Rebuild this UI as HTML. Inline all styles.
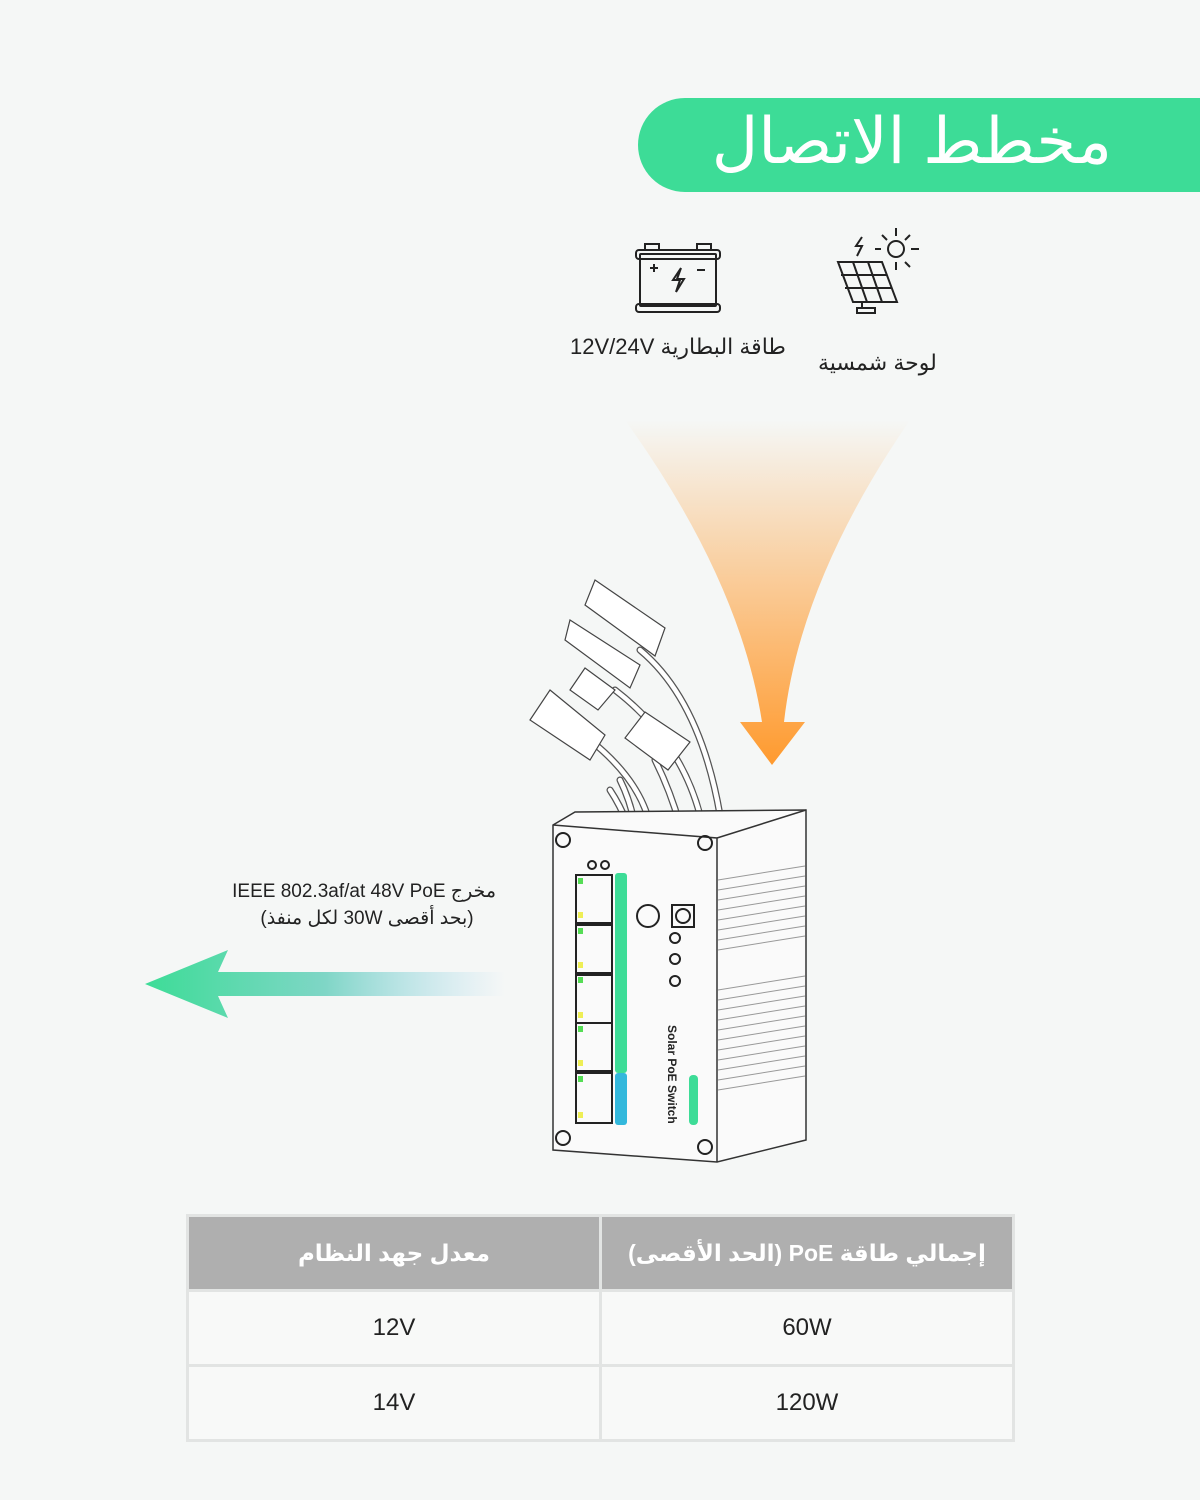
<!DOCTYPE html>
<html><head><meta charset="utf-8"><style>
body{margin:0;width:1200px;height:1500px;background:#f5f7f6;position:relative;overflow:hidden;font-family:"Liberation Sans","DejaVu Sans",sans-serif;color:#222}
.banner{position:absolute;left:638px;top:98px;width:600px;height:94px;background:#3ddc97;border-radius:47px 0 0 47px}
.banner span{position:absolute;right:126px;top:-2px;line-height:90px;font-size:64px;color:#fff;direction:rtl}
.lbl{position:absolute;font-size:22px;direction:rtl;white-space:nowrap}
table{position:absolute;left:186px;top:1214px;width:829px;border-collapse:collapse}
td{border:3px solid #e2e4e3;height:70px;text-align:center;font-size:24px;width:50%;background:#f8f9f8}
th{border:3px solid #e2e4e3;height:70px;background:#afafaf;color:#fff;font-size:23px;font-weight:bold;direction:rtl}
</style></head><body>
<div class="banner"><span>مخطط الاتصال</span></div>
<svg width="1200" height="1500" style="position:absolute;left:0;top:0">
<defs>
<linearGradient id="og" x1="0" y1="0" x2="0" y2="1"><stop offset="0" stop-color="#ff9a2e" stop-opacity="0"/><stop offset="1" stop-color="#ff9a2e"/></linearGradient>
<linearGradient id="gg" x1="0" y1="0" x2="1" y2="0"><stop offset="0" stop-color="#3ddc97"/><stop offset="0.5" stop-color="#7fd6c6"/><stop offset="1" stop-color="#a6d6f0" stop-opacity="0"/></linearGradient>
</defs>
<path d="M625 420 L910 420 Q800 580 784 722 L805 722 L772 765 L740 722 L762 722 Q740 580 625 420Z" fill="url(#og)"/>
<path d="M145 984 L228 950 L218 972 L505 972 L505 996 L218 996 L228 1018Z" fill="url(#gg)"/>
<g fill="none" stroke="#222" stroke-width="2">
<rect x="640" y="254" width="76" height="52" rx="1"/><rect x="636" y="250" width="84" height="9" rx="3"/><rect x="636" y="304" width="84" height="8" rx="3"/>
<rect x="645" y="244" width="14" height="6"/><rect x="697" y="244" width="14" height="6"/>
<path d="M650 268h8M654 264v8M697 270h8M681 268l-8 12h7l-4 12 8-13h-7z"/>
<path d="M838 262h44l15 40h-44z M841 275h46 M845 288h47 M853 262l14 40 M868 262l14 40 M862 302v6 M857 308h18v5h-18z"/>
<circle cx="896" cy="249" r="8"/><path d="M896 228v8M896 262v8M875 249h6M911 249h8M882 235l5 5M910 235l-5 5M905 262l5 5M862 237l-6 9h6l-5 10"/>
<g stroke="#555" stroke-width="7" stroke-linecap="round"><path d="M640 650 Q700 700 720 815M615 690 Q680 740 700 815M655 760 Q670 790 680 825M590 740 Q640 780 650 825M620 780 Q630 800 635 825M610 790 Q620 805 628 825"/></g>
<g stroke="#fff" stroke-width="4.5" stroke-linecap="round"><path d="M640 650 Q700 700 720 815M615 690 Q680 740 700 815M655 760 Q670 790 680 825M590 740 Q640 780 650 825M620 780 Q630 800 635 825M610 790 Q620 805 628 825"/></g>
<g stroke="#444" stroke-width="1.2" fill="#fff">
<path d="M595 580 L665 628 L655 656 L585 605z"/><path d="M570 620 L640 665 L630 688 L565 640z"/><path d="M585 668 L615 690 L598 710 L570 690z"/><path d="M550 690 L605 735 L590 760 L530 720z"/><path d="M645 712 L690 742 L668 770 L625 738z"/>
</g>
<path d="M553 825 L575 812 L806 810 L806 1140 L717 1162 L553 1150Z" fill="#fafafa" stroke="#333" stroke-width="1.5"/>
<path d="M553 825 L717 838 L717 1162 M717 838 L806 810" stroke="#333" stroke-width="1.5"/>
<g stroke="#999" stroke-width="1"><path d="M718 880 L805 866 M718 890 L805 876 M718 900 L805 886 M718 910 L805 896 M718 920 L805 906 M718 930 L805 916 M718 940 L805 926 M718 950 L805 936 M718 990 L805 976 M718 1000 L805 986 M718 1010 L805 996 M718 1020 L805 1006 M718 1030 L805 1016 M718 1040 L805 1026 M718 1050 L805 1036 M718 1060 L805 1046 M718 1070 L805 1056 M718 1080 L805 1066 M718 1090 L805 1076"/></g>
<circle cx="563" cy="840" r="7"/><circle cx="705" cy="843" r="7"/><circle cx="563" cy="1138" r="7"/><circle cx="705" cy="1147" r="7"/>
<rect x="576" y="875" width="36" height="48"/><rect x="576" y="925" width="36" height="48"/><rect x="576" y="975" width="36" height="48"/><rect x="576" y="1023" width="36" height="48"/><rect x="576" y="1073" width="36" height="50"/>
<circle cx="648" cy="916" r="11"/><rect x="672" y="905" width="22" height="22"/><circle cx="683" cy="916" r="7"/>
<circle cx="675" cy="938" r="5"/><circle cx="675" cy="959" r="5"/><circle cx="675" cy="981" r="5"/><circle cx="592" cy="865" r="4"/><circle cx="605" cy="865" r="4"/>
</g>
<rect x="615" y="873" width="12" height="200" rx="3" fill="#3ddc97"/>
<rect x="615" y="1073" width="12" height="52" rx="3" fill="#33b8dc"/>
<rect x="689" y="1075" width="9" height="50" rx="4" fill="#3ddc97"/>
<g fill="#5d5"><rect x="578" y="878" width="5" height="6"/><rect x="578" y="928" width="5" height="6"/><rect x="578" y="977" width="5" height="6"/><rect x="578" y="1026" width="5" height="6"/><rect x="578" y="1076" width="5" height="6"/></g>
<g fill="#ee5"><rect x="578" y="912" width="5" height="6"/><rect x="578" y="962" width="5" height="6"/><rect x="578" y="1012" width="5" height="6"/><rect x="578" y="1060" width="5" height="6"/><rect x="578" y="1112" width="5" height="6"/></g>
<text x="0" y="0" transform="translate(668,1025) rotate(90)" font-size="12" font-weight="bold" fill="#222" font-family="Liberation Sans">Solar PoE Switch</text>
</svg>
<div class="lbl" style="left:570px;top:334px">طاقة البطارية 12V/24V</div>
<div class="lbl" style="left:818px;top:350px">لوحة شمسية</div>
<div class="lbl" style="left:238px;top:880px;font-size:19px;text-align:center;width:258px">مخرج IEEE 802.3af/at 48V PoE</div>
<div class="lbl" style="left:238px;top:907px;font-size:19px;text-align:center;width:258px">(بحد أقصى 30W لكل منفذ)</div>
<table>
<tr><th>معدل جهد النظام</th><th>إجمالي طاقة PoE (الحد الأقصى)</th></tr>
<tr><td>12V</td><td>60W</td></tr>
<tr><td>14V</td><td>120W</td></tr>
</table>
</body></html>
